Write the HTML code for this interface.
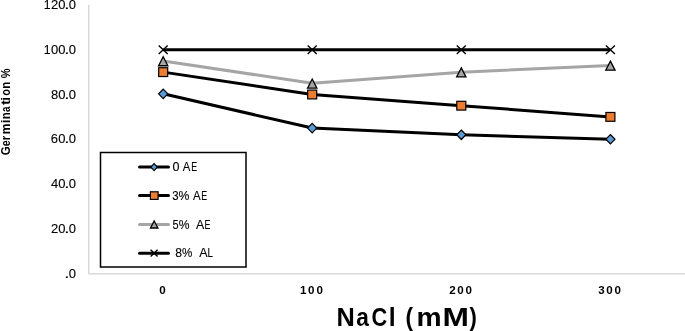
<!DOCTYPE html>
<html><head><meta charset="utf-8"><style>
html,body{margin:0;padding:0;background:#fff;width:685px;height:331px;overflow:hidden}
svg{display:block;will-change:transform}
text{font-family:"Liberation Sans",sans-serif;font-kerning:none}
text:not([font-weight]){stroke:#000;stroke-width:0.12px}
</style></head><body>
<svg width="685" height="331" viewBox="0 0 685 331">
<defs>
<polygon id="dm" points="0,-4.75 4.6,0 0,4.75 -4.6,0" fill="#5b9bd5" stroke="#000" stroke-width="1.2"/>
<rect id="sq" x="-4.5" y="-4.4" width="9" height="8.8" fill="#ed7d31" stroke="#000" stroke-width="1.2"/>
<polygon id="tr" points="0,-4.25 4.65,4.8 -4.65,4.8" fill="#a5a5a5" stroke="#000" stroke-width="1.3"/>
<path id="xx" d="M-4.5,-4.3 L4.5,4.3 M-4.5,4.3 L4.5,-4.3" stroke="#000" stroke-width="1.4" fill="none"/>
</defs>
<line x1="88.75" y1="5" x2="88.75" y2="274" stroke="#d9d9d9" stroke-width="1.5"/>
<line x1="88" y1="273.75" x2="685" y2="273.75" stroke="#d9d9d9" stroke-width="1.5"/>
<text transform="translate(43.664,9.023) scale(0.9460,1)" font-size="12.994" fill="#000">1</text>
<text transform="translate(50.887,9.023) scale(1.0000,1)" font-size="12.994" fill="#000">2</text>
<text transform="translate(58.337,9.023) scale(1.0000,1)" font-size="12.994" fill="#000">0</text>
<text transform="translate(64.174,9.023) scale(1.4548,1)" font-size="12.994" fill="#000">.</text>
<text transform="translate(68.737,9.023) scale(1.0000,1)" font-size="12.994" fill="#000">0</text>
<text transform="translate(43.664,53.773) scale(0.9460,1)" font-size="12.994" fill="#000">1</text>
<text transform="translate(50.887,53.773) scale(1.0000,1)" font-size="12.994" fill="#000">0</text>
<text transform="translate(58.337,53.773) scale(1.0000,1)" font-size="12.994" fill="#000">0</text>
<text transform="translate(64.174,53.773) scale(1.4548,1)" font-size="12.994" fill="#000">.</text>
<text transform="translate(68.737,53.773) scale(1.0000,1)" font-size="12.994" fill="#000">0</text>
<text transform="translate(50.887,98.523) scale(1.0000,1)" font-size="12.994" fill="#000">8</text>
<text transform="translate(58.337,98.523) scale(1.0000,1)" font-size="12.994" fill="#000">0</text>
<text transform="translate(64.174,98.523) scale(1.4548,1)" font-size="12.994" fill="#000">.</text>
<text transform="translate(68.737,98.523) scale(1.0000,1)" font-size="12.994" fill="#000">0</text>
<text transform="translate(50.842,143.273) scale(1.0000,1)" font-size="12.994" fill="#000">6</text>
<text transform="translate(58.337,143.273) scale(1.0000,1)" font-size="12.994" fill="#000">0</text>
<text transform="translate(64.174,143.273) scale(1.4548,1)" font-size="12.994" fill="#000">.</text>
<text transform="translate(68.737,143.273) scale(1.0000,1)" font-size="12.994" fill="#000">0</text>
<text transform="translate(50.928,188.023) scale(1.0000,1)" font-size="12.994" fill="#000">4</text>
<text transform="translate(58.337,188.023) scale(1.0000,1)" font-size="12.994" fill="#000">0</text>
<text transform="translate(64.174,188.023) scale(1.4548,1)" font-size="12.994" fill="#000">.</text>
<text transform="translate(68.737,188.023) scale(1.0000,1)" font-size="12.994" fill="#000">0</text>
<text transform="translate(50.887,232.773) scale(1.0000,1)" font-size="12.994" fill="#000">2</text>
<text transform="translate(58.337,232.773) scale(1.0000,1)" font-size="12.994" fill="#000">0</text>
<text transform="translate(64.174,232.773) scale(1.4548,1)" font-size="12.994" fill="#000">.</text>
<text transform="translate(68.737,232.773) scale(1.0000,1)" font-size="12.994" fill="#000">0</text>
<text transform="translate(64.174,277.523) scale(1.4548,1)" font-size="12.994" fill="#000">.</text>
<text transform="translate(68.737,277.523) scale(1.0000,1)" font-size="12.994" fill="#000">0</text>
<g transform="rotate(-90)"><text transform="translate(-155.274,9.579) scale(0.9300,1)" font-size="12.429" font-weight="bold" fill="#000">G</text><text transform="translate(-146.221,9.579) scale(0.8663,1)" font-size="12.429" font-weight="bold" fill="#000">e</text><text transform="translate(-140.349,9.579) scale(0.9140,1)" font-size="12.429" font-weight="bold" fill="#000">r</text><text transform="translate(-134.188,9.579) scale(0.9618,1)" font-size="12.429" font-weight="bold" fill="#000">m</text><text transform="translate(-123.167,9.579) scale(1.1141,1)" font-size="12.429" font-weight="bold" fill="#000">i</text><text transform="translate(-119.264,9.579) scale(0.9330,1)" font-size="12.429" font-weight="bold" fill="#000">n</text><text transform="translate(-111.891,9.579) scale(0.7997,1)" font-size="12.429" font-weight="bold" fill="#000">a</text><text transform="translate(-105.078,9.579) scale(1.1732,1)" font-size="12.429" font-weight="bold" fill="#000">t</text><text transform="translate(-100.667,9.579) scale(1.1141,1)" font-size="12.429" font-weight="bold" fill="#000">i</text><text transform="translate(-95.833,9.579) scale(0.8911,1)" font-size="12.429" font-weight="bold" fill="#000">o</text><text transform="translate(-88.864,9.579) scale(0.9330,1)" font-size="12.429" font-weight="bold" fill="#000">n</text><text transform="translate(-78.373,9.579) scale(0.8834,1)" font-size="12.429" font-weight="bold" fill="#000">%</text></g>
<text transform="translate(159.188,294.087) scale(1.0000,1)" font-size="11.582" font-weight="bold" fill="#000">0</text>
<text transform="translate(299.876,294.087) scale(1.0000,1)" font-size="11.582" font-weight="bold" fill="#000">1</text>
<text transform="translate(308.088,294.087) scale(1.0000,1)" font-size="11.582" font-weight="bold" fill="#000">0</text>
<text transform="translate(316.388,294.087) scale(1.0000,1)" font-size="11.582" font-weight="bold" fill="#000">0</text>
<text transform="translate(449.210,294.087) scale(1.0000,1)" font-size="11.582" font-weight="bold" fill="#000">2</text>
<text transform="translate(457.188,294.087) scale(1.0000,1)" font-size="11.582" font-weight="bold" fill="#000">0</text>
<text transform="translate(465.488,294.087) scale(1.0000,1)" font-size="11.582" font-weight="bold" fill="#000">0</text>
<text transform="translate(598.356,294.087) scale(1.0000,1)" font-size="11.582" font-weight="bold" fill="#000">3</text>
<text transform="translate(606.288,294.087) scale(1.0000,1)" font-size="11.582" font-weight="bold" fill="#000">0</text>
<text transform="translate(614.588,294.087) scale(1.0000,1)" font-size="11.582" font-weight="bold" fill="#000">0</text>
<text transform="translate(336.405,325.500) scale(1.0079,1)" font-size="25.146" font-weight="bold" fill="#000">N</text>
<text transform="translate(356.235,325.500) scale(0.9025,1)" font-size="25.146" font-weight="bold" fill="#000">a</text>
<text transform="translate(371.609,325.500) scale(0.8637,1)" font-size="25.146" font-weight="bold" fill="#000">C</text>
<text transform="translate(388.870,325.500) scale(0.9855,1)" font-size="25.146" font-weight="bold" fill="#000">l</text>
<text transform="translate(405.471,325.500) scale(0.9018,1)" font-size="25.146" font-weight="bold" fill="#000">(</text>
<text transform="translate(416.438,325.500) scale(1.1232,1)" font-size="25.146" font-weight="bold" fill="#000">m</text>
<text transform="translate(442.476,325.500) scale(1.2626,1)" font-size="25.146" font-weight="bold" fill="#000">M</text>
<text transform="translate(469.579,325.500) scale(0.8736,1)" font-size="25.146" font-weight="bold" fill="#000">)</text>
<polyline points="163.2,93.80 312.2,128.06 461.3,134.78 610.4,139.25" fill="none" stroke="#000" stroke-width="3" stroke-linejoin="round"/>
<use href="#dm" x="163.2" y="93.80"/><use href="#dm" x="312.2" y="128.06"/><use href="#dm" x="461.3" y="134.78"/><use href="#dm" x="610.4" y="139.25"/>
<polyline points="163.2,72.13 312.2,94.50 461.3,105.69 610.4,116.88" fill="none" stroke="#000" stroke-width="3" stroke-linejoin="round"/>
<use href="#sq" x="163.2" y="72.13"/><use href="#sq" x="312.2" y="94.50"/><use href="#sq" x="461.3" y="105.69"/><use href="#sq" x="610.4" y="116.88"/>
<polyline points="163.2,60.94 312.2,83.31 461.3,72.13 610.4,65.41" fill="none" stroke="#a5a5a5" stroke-width="3" stroke-linejoin="round"/>
<use href="#tr" x="163.2" y="60.94"/><use href="#tr" x="312.2" y="83.31"/><use href="#tr" x="461.3" y="72.13"/><use href="#tr" x="610.4" y="65.41"/>
<polyline points="163.2,49.75 312.2,49.75 461.3,49.75 610.4,49.75" fill="none" stroke="#000" stroke-width="3" stroke-linejoin="round"/>
<use href="#xx" x="163.2" y="49.75"/><use href="#xx" x="312.2" y="49.75"/><use href="#xx" x="461.3" y="49.75"/><use href="#xx" x="610.4" y="49.75"/>
<rect x="100.5" y="152.5" width="145.5" height="114.5" fill="#fff" stroke="#000" stroke-width="1.5"/>
<line x1="139.5" y1="167.0" x2="168.5" y2="167.0" stroke="#000" stroke-width="3" stroke-linecap="round"/>
<line x1="139.5" y1="195.5" x2="168.5" y2="195.5" stroke="#000" stroke-width="3" stroke-linecap="round"/>
<line x1="139.5" y1="224.4" x2="168.5" y2="224.4" stroke="#a5a5a5" stroke-width="3" stroke-linecap="round"/>
<line x1="139.5" y1="253.3" x2="168.5" y2="253.3" stroke="#000" stroke-width="3" stroke-linecap="round"/>
<polygon points="154.1,163.6 157.3,167.1 154.1,170.6 150.9,167.1" fill="#5b9bd5" stroke="#000" stroke-width="1.2"/>
<rect x="150.4" y="191.8" width="7.7" height="7.6" fill="#ed7d31" stroke="#000" stroke-width="1.2"/>
<polygon points="154.2,221.0 157.9,228.0 150.5,228.0" fill="#a5a5a5" stroke="#000" stroke-width="1.3"/>
<path d="M150.6,249.8 L157.6,256.6 M150.6,256.6 L157.6,249.8" stroke="#000" stroke-width="1.4" fill="none"/>
<text transform="translate(172.410,170.900) scale(0.9595,1)" font-size="13.082" fill="#000">0</text>
<text transform="translate(182.778,170.900) scale(0.8646,1)" font-size="13.082" fill="#000">A</text>
<text transform="translate(191.274,170.900) scale(0.6770,1)" font-size="13.082" fill="#000">E</text>
<text transform="translate(172.366,199.900) scale(0.8706,1)" font-size="13.082" fill="#000">3</text>
<text transform="translate(178.564,199.900) scale(0.9347,1)" font-size="13.082" fill="#000">%</text>
<text transform="translate(193.078,199.900) scale(0.8762,1)" font-size="13.082" fill="#000">A</text>
<text transform="translate(201.274,199.900) scale(0.6770,1)" font-size="13.082" fill="#000">E</text>
<text transform="translate(172.561,228.700) scale(0.8384,1)" font-size="13.082" fill="#000">5</text>
<text transform="translate(178.769,228.700) scale(0.9253,1)" font-size="13.082" fill="#000">%</text>
<text transform="translate(195.976,228.700) scale(0.9453,1)" font-size="13.082" fill="#000">A</text>
<text transform="translate(204.474,228.700) scale(0.6770,1)" font-size="13.082" fill="#000">E</text>
<text transform="translate(175.272,257.400) scale(0.9286,1)" font-size="13.082" fill="#000">8</text>
<text transform="translate(182.086,257.400) scale(0.8879,1)" font-size="13.082" fill="#000">%</text>
<text transform="translate(199.176,257.400) scale(0.9569,1)" font-size="13.082" fill="#000">A</text>
<text transform="translate(207.600,257.400) scale(0.7455,1)" font-size="13.082" fill="#000">L</text>
</svg>
</body></html>
